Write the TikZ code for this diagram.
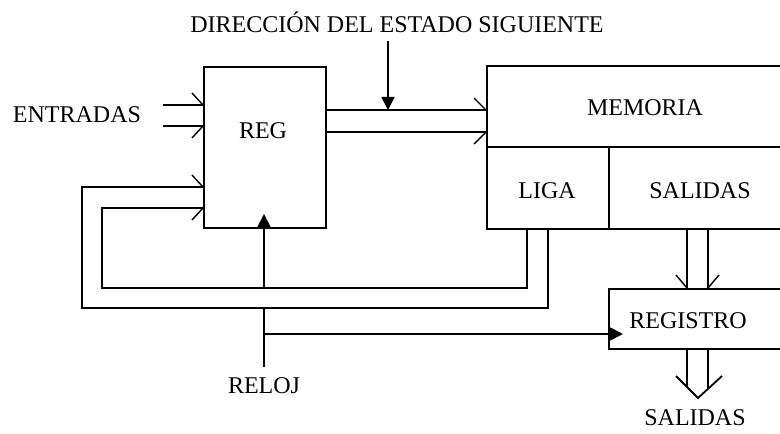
\documentclass[tikz,border=0pt]{standalone}
\usepackage{fontspec}
\setmainfont{Liberation Serif}
\usetikzlibrary{arrows.meta,calc}
\begin{document}
\begin{tikzpicture}[x=0.5pt,y=-0.5pt, line width=0.9pt,
  box/.style={draw, rectangle, inner sep=0pt, anchor=north west},
  lbl/.style={font=\fontsize{12}{14}\selectfont, inner sep=0pt},
  barb/.style={line width=0.7pt},
  tri/.style={-{Triangle[length=6.5pt,width=6.5pt]}}]
\useasboundingbox (0,0) rectangle (780,433);
% boxes
\node[box, minimum width=61pt, minimum height=80.5pt] (reg) at (203,66) {};
\node[box, minimum width=152pt, minimum height=40.5pt] (mem) at (486,65) {};
\node[box, minimum width=61pt, minimum height=41pt] (liga) at (486,146) {};
\node[box, minimum width=91pt, minimum height=41pt] (sal) at (608,146) {};
\node[box, minimum width=91pt, minimum height=30pt] (regis) at (608,288) {};
% texts
\node[lbl] (tent) at (77,115) {ENTRADAS};
\node[lbl] (treg) at (263,131) {REG};
\node[lbl] (tdir) at (397,22) {DIRECCIÓN DEL ESTADO SIGUIENTE};
\node[lbl] (tmem) at (645,108) {MEMORIA};
\node[lbl] (tliga) at (547,191) {LIGA};
\node[lbl] (tsal) at (700,191) {SALIDAS};
\node[lbl] (tregis) at (688,321) {REGISTRO};
\node[lbl] (treloj) at (264,386) {RELOJ};
\node[lbl] (tout) at (695,418) {SALIDAS};
% inputs
\coordinate (in1) at (163,105);
\coordinate (in2) at (163,126);
\draw (in1) -- (in1 -| reg.west);
\draw (in2) -- (in2 -| reg.west);
\draw[barb] (in1 -| reg.west) -- ++(-11,-12);
\draw[barb] (in2 -| reg.west) -- ++(-11,12);
% bus REG -> MEMORIA
\coordinate (b1) at (325,110);
\coordinate (b2) at (325,132);
\draw (b1) -- (b1 -| mem.west);
\draw (b2) -- (b2 -| mem.west);
\draw[barb] (b1 -| mem.west) -- ++(-12,-12);
\draw[barb] (b2 -| mem.west) -- ++(-12,12);
% next state address
\coordinate (d) at (388,41);
\draw[tri] (d) -- (d |- b1);
% feedback from LIGA
\coordinate (li) at (527,228);
\coordinate (lo) at (548,228);
\coordinate (fi) at (102,208);
\coordinate (fo) at (82,187);
\draw (li) -- (527,288) -- (102,288) -- (fi) -- (fi -| reg.west);
\draw (lo) -- (548,308) -- (82,308) -- (fo) -- (fo -| reg.west);
\draw[barb] (fi -| reg.west) -- ++(-11,12);
\draw[barb] (fo -| reg.west) -- ++(-11,-12);
% SALIDAS -> REGISTRO
\coordinate (s1) at (687,228);
\coordinate (s2) at (708,228);
\draw (s1) -- (s1 |- regis.north);
\draw (s2) -- (s2 |- regis.north);
\draw[barb] (s1 |- regis.north) -- ++(-11,-13);
\draw[barb] (s2 |- regis.north) -- ++(11,-13);
% clock
\coordinate (ck) at (264,367);
\coordinate (ckb) at (264,334);
\draw (ck) -- (264,308);
\draw[tri] (264,288) -- (264,214);
\draw[tri] (ckb) -- ($(ckb -| regis.west)+(15,0)$);
% outputs
\coordinate (o1) at (687,348);
\coordinate (o2) at (708,348);
\coordinate (oa) at (676,376);
\coordinate (ot) at (698,398);
\coordinate (ob) at (722,376);
\draw (o1) -- (687,387);
\draw (o2) -- (708,388);
\draw (oa) -- (ot) -- (ob);
\end{tikzpicture}
\end{document}
